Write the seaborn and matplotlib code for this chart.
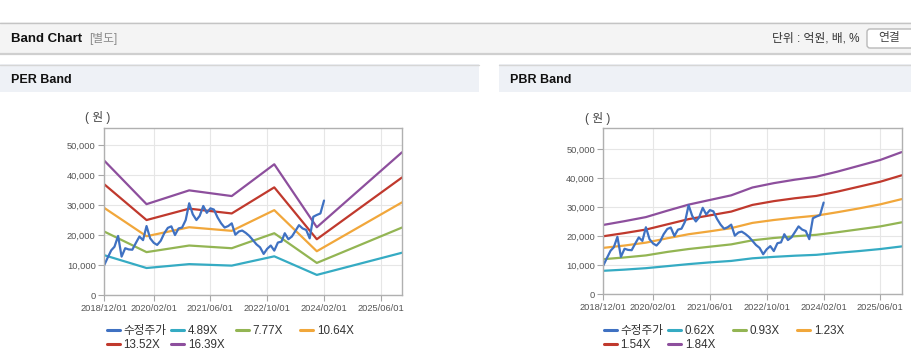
import numpy as np
import pandas as pd
import matplotlib
matplotlib.use('Agg')
import matplotlib.pyplot as plt
import matplotlib.dates as mdates
from matplotlib.patches import Rectangle, FancyBboxPatch
from matplotlib.ticker import FuncFormatter
import seaborn as sns
import warnings
warnings.filterwarnings('ignore')

sns.set_style('white')
plt.rcParams['font.family'] = ['Liberation Sans', 'Noto Sans CJK KR', 'DejaVu Sans']

# ── 데이터 ────────────────────────────────────────────────────────────────────
price_dates = pd.date_range('2018-12-01', '2024-02-01', freq='MS')
price = [9900, 12500, 15000, 16200, 19800, 12900, 15700, 15300, 15200, 17500,
         19600, 18400, 23100, 19000, 17500, 16800, 18200, 20700, 22500, 23000,
         20100, 22300, 22600, 25100, 30700, 27000, 25100, 26500, 29800, 27500,
         29000, 28600, 26000, 24000, 22600, 23100, 24000, 20200, 21300, 21600,
         20800, 19800, 18400, 17000, 16000, 13800, 15500, 16600, 14900, 17600,
         17900, 20700, 18700, 19600, 21500, 23400, 22300, 21800, 19000, 26200,
         26800, 27300, 31600]

per_dates = pd.to_datetime(['2018-12-01', '2019-12-01', '2020-12-01', '2021-12-01',
                            '2022-12-01', '2023-12-01', '2025-12-01'])
per_labels = ['4.89X', '7.77X', '10.64X', '13.52X', '16.39X']
per_489 = [13400, 9100, 10400, 9900, 13000, 6800, 14200]
per_777 = [21300, 14400, 16600, 15700, 20700, 10800, 22600]
per_1064 = [29200, 19700, 22700, 21500, 28400, 14700, 31000]
per_1352 = [37100, 25100, 28900, 27300, 36000, 18700, 39300]
per_1639 = [45000, 30400, 35000, 33100, 43700, 22700, 47700]

pbr_dates = pd.date_range('2018-12-01', '2025-12-01', freq='6MS')
pbr_labels = ['0.62X', '0.93X', '1.23X', '1.54X', '1.84X']
pbr_062 = [8100, 8500, 9000, 9700, 10400, 11000, 11500, 12400, 12900, 13300,
           13600, 14300, 14900, 15600, 16500]
pbr_093 = [12100, 12700, 13400, 14600, 15600, 16400, 17200, 18600, 19400, 20000,
           20500, 21400, 22400, 23400, 24800]
pbr_123 = [16000, 16800, 17800, 19300, 20700, 21700, 22800, 24600, 25600, 26400,
           27100, 28300, 29600, 31000, 32800]
pbr_154 = [20000, 21100, 22300, 24100, 25900, 27200, 28500, 30800, 32100, 33100,
           33900, 35400, 37100, 38800, 41000]
pbr_184 = [23900, 25200, 26600, 28800, 30900, 32500, 34100, 36800, 38300, 39500,
           40500, 42300, 44300, 46300, 49000]

tick_dates = pd.to_datetime(['2018-12-01', '2020-02-01', '2021-06-01',
                             '2022-10-01', '2024-02-01', '2025-06-01'])
y_ticks = [0, 10000, 20000, 30000, 40000, 50000]

PRICE_COLOR = '#3f71c2'
BAND_COLORS = ['#35abc3', '#93b553', '#f1a73b', '#c0392d', '#8d4f9d']

W, H = 912, 364
fig = plt.figure(figsize=(W / 100, H / 100), dpi=100)

# ── 배경 / 헤더 (픽셀 좌표) ─────────────────────────────────────────────────────
bg = fig.add_axes([0, 0, 1, 1], zorder=-5)
bg.set_xlim(0, W); bg.set_ylim(H, 0); bg.axis('off')
bg.add_patch(Rectangle((0, 22), W, 31, fc='#f4f4f4', ec='none'))
bg.plot([0, W], [22.5, 22.5], color='#c4c4c4', lw=1)
bg.plot([0, W], [53.5, 53.5], color='#cfcfcf', lw=1.6)
bg.text(11, 38.5, 'Band Chart', fontsize=9.5, fontweight='bold', color='#111', va='center')
bg.text(89, 38.5, '[별도]', fontsize=8.5, color='#8a8a8a', va='center')
bg.text(860, 38.5, '단위 : 억원, 배, %', fontsize=8.5, color='#333', va='center', ha='right')
bg.add_patch(FancyBboxPatch((867, 29), 50, 19, boxstyle='round,pad=0,rounding_size=3',
                            fc='white', ec='#b9b9b9', lw=1))
bg.text(889, 38.5, '연결', fontsize=8.5, color='#444', va='center', ha='center')

for x0, x1, title in [(0, 479, 'PER Band'), (499, W, 'PBR Band')]:
    bg.add_patch(Rectangle((x0, 64), x1 - x0, 28, fc='#eef1f6', ec='none'))
    bg.plot([x0, x1], [64.5, 64.5], color='#d6d6d6', lw=1)
    bg.text(x0 + 11, 80, title, fontsize=9, fontweight='bold', color='#111', va='center')


def draw_panel(rect, band_dates, bands, labels, ymax, legend_x):
    ax = fig.add_axes(rect)
    for vals, lab, col in zip(bands, labels, BAND_COLORS):
        sns.lineplot(x=band_dates, y=vals, ax=ax, color=col, lw=1.6, label=lab)
    sns.lineplot(x=price_dates, y=price, ax=ax, color=PRICE_COLOR, lw=1.6, label='수정주가')

    ax.set_xlim(pd.Timestamp('2018-12-01'), pd.Timestamp('2025-12-01'))
    ax.set_ylim(0, ymax)
    ax.set_xticks(tick_dates)
    ax.xaxis.set_major_formatter(mdates.DateFormatter('%Y/%m/%d'))
    ax.set_yticks(y_ticks)
    ax.yaxis.set_major_formatter(FuncFormatter(lambda v, p: f'{int(v):,}'))
    ax.grid(True, color='#e6e6e6', lw=0.8)
    ax.tick_params(axis='both', labelsize=6.7, length=4, width=0.8,
                   direction='out', pad=2, left=True, bottom=True,
                   colors='#a8a8a8', labelcolor='#555')
    for s in ax.spines.values():
        s.set_color('#b0b0b0'); s.set_linewidth(1)
    ax.set_xlabel(''); ax.set_ylabel('')
    ax.text(-0.02, 1.06, '( 원 )', transform=ax.transAxes, fontsize=8.5, color='#444',
            ha='center', va='center')

    # 범례: 고정 폭 컬럼 4개 (행 우선 순서)
    h, l = ax.get_legend_handles_labels()
    ax.get_legend().remove()
    hd = dict(zip(l, h))
    columns = [['수정주가', labels[3]], [labels[0], labels[4]], [labels[1]], [labels[2]]]
    for i, keys in enumerate(columns):
        leg = fig.legend([hd[k] for k in keys], keys, ncol=1, frameon=False,
                         loc='upper left',
                         bbox_to_anchor=((legend_x + i * 64.5) / W, 1 - 325 / H),
                         fontsize=8.4, handlelength=1.1, handletextpad=0.3,
                         labelspacing=0.15, borderpad=0, borderaxespad=0,
                         labelcolor='#333')
        for ln in leg.get_lines():
            ln.set_linewidth(2.2)
    return ax


draw_panel([104 / W, 1 - 295.3 / H, 298 / W, 167.3 / H], per_dates,
           [per_489, per_777, per_1064, per_1352, per_1639], per_labels, 55800, 107)
draw_panel([603.3 / W, 1 - 294.3 / H, 298.4 / W, 166.3 / H], pbr_dates,
           [pbr_062, pbr_093, pbr_123, pbr_154, pbr_184], pbr_labels, 57300, 604)

fig.savefig('out.png', dpi=100)
